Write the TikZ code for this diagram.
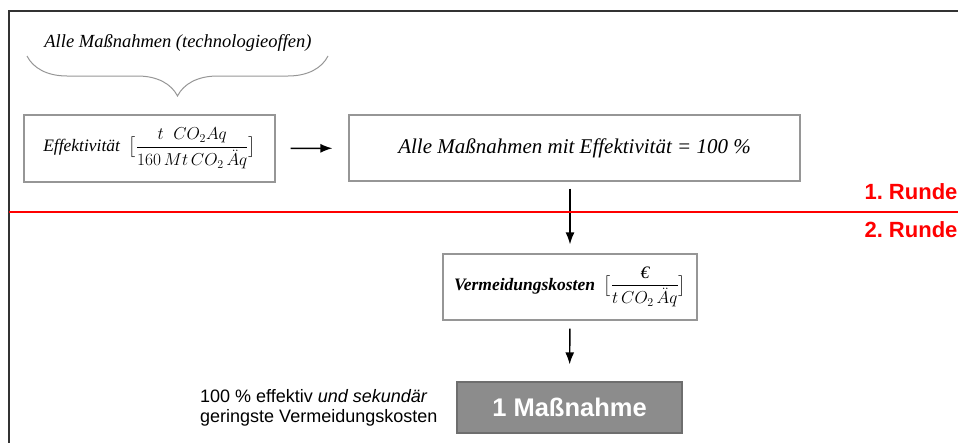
\documentclass[tikz,border=0pt]{standalone}
\usepackage{amsmath}
\usepackage{fontspec}
\setmainfont{Liberation Serif}
\setsansfont{Liberation Sans}
\usepackage{xcolor}
\usetikzlibrary{arrows.meta,positioning,calc,decorations.pathreplacing}

\definecolor{rahmengrau}{RGB}{150,150,150}
\definecolor{fuellgrau}{RGB}{140,140,140}
\definecolor{randgrau}{RGB}{110,110,110}
\definecolor{rundenrot}{RGB}{255,0,0}

\begin{document}
\begin{tikzpicture}[x=1pt,y=-1pt,
    box/.style={draw=rahmengrau, line width=1.2pt, inner sep=0pt, align=center},
    pfeil/.style={-{Latex[length=12pt,width=9pt]}, line width=1.4pt},
    runde/.style={anchor=west, text=rundenrot, font=\sffamily\bfseries\fontsize{22}{25}\selectfont\frenchspacing}]
    \useasboundingbox (0,0) rectangle (958,442);

    % Rahmen
    \draw[line width=1.6pt, black!80] (9,470) -- (9,11) -- (990,11);

    % Klammer oben
    \node (oben) at (178,43) {\itshape\fontsize{18.5}{21}\selectfont Alle Maßnahmen (technologieoffen)};
    \draw[rahmengrau, line width=1pt, decorate, decoration={brace, mirror, amplitude=40pt}]
        (27,56) -- (328,56);

    % Kästen
    \node[box, minimum width=251pt, minimum height=67pt] (eff) at (149.5,148.5)
        {\fontsize{17.5}{20}\selectfont\itshape Effektivität\ \ \upshape
         $\bigl[\dfrac{t\;\;CO_{2}Aq}{160\,Mt\,CO_{2}\,\ddot{A}q}\bigr]$};
    \node[box, minimum width=451pt, minimum height=66pt] (alle) at (574.5,148)
        {\itshape\fontsize{21}{24}\selectfont Alle Maßnahmen mit Effektivität = 100 \%};
    \node[box, minimum width=254pt, minimum height=66pt] (kost) at (570,287)
        {\fontsize{17.5}{20}\selectfont\bfseries\itshape Vermeidungskosten\ \ \mdseries\upshape
         $\bigl[\dfrac{\textit{€}}{t\,CO_{2}\,\ddot{A}q}\bigr]$};
    \node[draw=randgrau, fill=fuellgrau, line width=1.2pt, minimum width=225pt, minimum height=51pt,
        text=white, font=\sffamily\bfseries\fontsize{25.5}{28}\selectfont] (eine) at (569.5,407.5) {1 Maßnahme};

    % Text links
    \node[anchor=west, align=left, inner sep=0pt, font=\sffamily\fontsize{18}{19.5}\selectfont]
        (hinweis) at (200,408) {100 \% effektiv \textit{und sekundär}\\geringste Vermeidungskosten};

    % Pfeile
    \draw[pfeil, shorten <=15pt, shorten >=16pt] (eff) -- (alle);
    \draw[pfeil, shorten <=7pt, shorten >=9pt] (alle.south -| kost.north) -- (kost.north);
    \draw[pfeil, shorten <=8pt, shorten >=17pt] (kost.south) -- (eine.north);

    % Runden
    \fill[rundenrot] (9,210.7) rectangle (990,212.5);
    \node[runde] (r1) at (861,192) {1. Runde};
    \node[runde] (r2) at (861,230) {2. Runde};
\end{tikzpicture}
\end{document}
